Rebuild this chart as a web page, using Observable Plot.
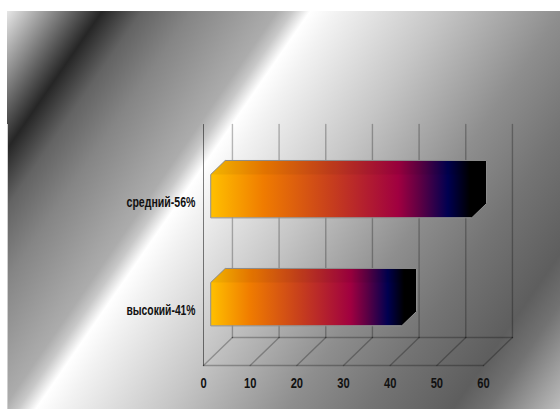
<!DOCTYPE html>
<html>
<head>
<meta charset="utf-8">
<script src="https://cdn.jsdelivr.net/npm/d3@7"></script>
<script src="https://cdn.jsdelivr.net/npm/@observablehq/plot@0.6"></script>
<style>
  html, body { margin: 0; padding: 0; background: #fff; }
</style>
</head>
<body>
<div id="chart"></div>
<script>
// Data
const categories = ["высокий-41%", "средний-56%"];
const values = [41, 56];
const tickValues = [0, 10, 20, 30, 40, 50, 60];

// Oblique 3D box settings, in data units
const depthX = 6.2;      // x units for full depth
const depthY = 0.263;    // row units for full depth
const rows = 2;
const barBase = [0.31, 1.324];
const barHeight = 0.404;
const barFront = 0.25, barBack = 0.75;

const px = (v, d) => v + d * depthX;
const py = (h, d) => h + d * depthY;

// Floor and wall lines, each a short polyline
const grid = [];
tickValues.forEach(t => {
  grid.push({id: "wall" + t, x: px(t, 1), y: py(0, 1)}, {id: "wall" + t, x: px(t, 1), y: py(rows, 1)});
  grid.push({id: "floor" + t, x: px(t, 0), y: py(0, 0)}, {id: "floor" + t, x: px(t, 1), y: py(0, 1)});
});
grid.push({id: "front", x: px(0, 0), y: py(0, 0)}, {id: "front", x: px(60, 0), y: py(0, 0)});
grid.push({id: "back", x: px(0, 1), y: py(0, 1)}, {id: "back", x: px(60, 1), y: py(0, 1)});
const leftEdge = [{x: 0, y: 0}, {x: 0, y: py(rows, 1)}];

// Bar outlines derived from the values
const bars = [], tops = [];
categories.forEach((c, i) => {
  const v = values[i], h0 = barBase[i], h1 = h0 + barHeight;
  [[0, h0, barFront], [0, h1, barFront], [0, h1, barBack], [v, h1, barBack], [v, h0, barBack], [v, h0, barFront]]
    .forEach(([a, h, d]) => bars.push({cat: c, x: px(a, d), y: py(h, d)}));
  [[0, h1, barFront], [0, h1, barBack], [v, h1, barBack], [v, h1, barFront]]
    .forEach(([a, h, d]) => tops.push({cat: c, x: px(a, d), y: py(h, d)}));
});
const labels = categories.map((c, i) => ({label: c, x: 0, y: barBase[i] + barHeight / 2}));

// Page background: diagonal metallic gradient
const bgStops = [[15, "#e6e6e6"], [60, "#8c8c8c"], [110, "#262626"], [150, "#636363"], [200, "#858585"], [285, "#acacac"], [300, "#c8c8c8"], [318, "#ffffff"], [345, "#f2f2f2"], [450, "#c6c6c6"], [570, "#8e8e8e"], [650, "#747474"], [735, "#5e5e5e"], [770, "#727272"], [845, "#c0c0c0"]];
const bgCss = `linear-gradient(#cfcfcf, #cfcfcf) 7px 124px / 1px 285px no-repeat, linear-gradient(124.6deg, ${bgStops.map(([t, c]) => `${c} ${((t - 14.6) * 0.823).toFixed(1)}px`).join(", ")}) 7px 11px / 553px 398px no-repeat`;

const barStops = [[0, "#ffc000"], [0.19, "#f07c00"], [0.43, "#c8401c"], [0.68, "#a00040"], [0.76, "#5c0044"], [0.86, "#000050"], [0.94, "#000000"], [1, "#000000"]];
const defs = () => {
  const d = d3.create("svg:defs");
  const g = d.append("linearGradient").attr("id", "barFill");
  barStops.forEach(([o, c]) => g.append("stop").attr("offset", o).attr("stop-color", c));
  return d.node();
};

const font = "'Liberation Sans', sans-serif";
const chart = Plot.plot({
  width: 560,
  height: 409,
  marginTop: 124,
  marginBottom: 44,
  marginLeft: 203,
  marginRight: 77,
  style: {background: bgCss, fontFamily: font},
  x: {domain: [0, 60], label: null},
  y: {domain: [0, py(rows, 1)], label: null},
  marks: [
    defs,
    Plot.line(grid, {x: "x", y: "y", z: "id", stroke: "#000", strokeOpacity: 0.27, strokeWidth: 1.4}),
    Plot.line(leftEdge, {x: "x", y: "y", stroke: "#000", strokeOpacity: 0.5, strokeWidth: 1}),
    Plot.line(bars, {x: "x", y: "y", z: "cat", curve: "linear-closed", fill: "url(#barFill)", stroke: "#8f8f8f", strokeWidth: 1}),
    Plot.line(tops, {x: "x", y: "y", z: "cat", curve: "linear-closed", fill: "#000", fillOpacity: 0.05, stroke: "none"}),
    Plot.text(labels, {x: "x", y: "y", text: "label", textAnchor: "end", dx: -8, fontSize: 14, fontWeight: "bold", fill: "#111"}),
    Plot.axisX({ticks: tickValues, tickSize: 0, tickPadding: 13, label: null, fontSize: 14, fontWeight: "bold", fill: "#111", tickFormat: d => String(d)}),
    Plot.axisY({ticks: [], label: null})
  ]
});
// Narrow the type to match the condensed face of the original
d3.select(chart).selectAll("text").each(function () {
  const s = this.textContent;
  this.setAttribute("textLength", s.length > 3 ? 69 : s.length * 6.2);
  this.setAttribute("lengthAdjust", "spacingAndGlyphs");
});
document.getElementById("chart").appendChild(chart);
</script>
</body>
</html>
